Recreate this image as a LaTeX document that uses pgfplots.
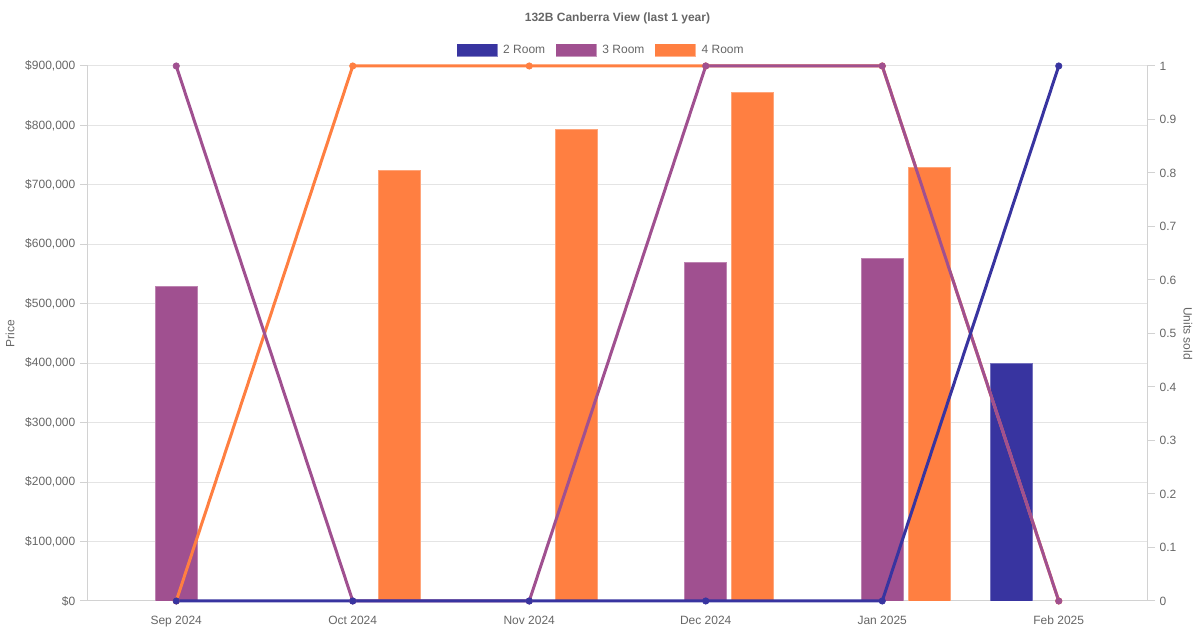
\documentclass[border=0pt]{standalone}
\usepackage{pgfplots}
\pgfplotsset{compat=1.18}
\usepackage{fontspec}
\setmainfont{Liberation Sans}
\definecolor{cblue}{RGB}{56,52,160}
\definecolor{cpurple}{RGB}{160,80,144}
\definecolor{corange}{RGB}{255,127,65}
\definecolor{txtgray}{RGB}{102,102,102}
\definecolor{gridgray}{RGB}{228,228,228}
\definecolor{axgray}{RGB}{210,210,210}
\begin{document}
\begin{tikzpicture}
\useasboundingbox (0,0) rectangle (900pt,472.5pt);
\begin{axis}[
  at={(66pt,21.75pt)}, anchor=south west,
  width=794.25pt, height=401.25pt, scale only axis,
  xmin=-0.5, xmax=5.5, ymin=0, ymax=900000,
  xtick={0,1,2,3,4,5},
  xticklabels={Sep 2024,Oct 2024,Nov 2024,Dec 2024,Jan 2025,Feb 2025},
  ytick={0,100000,200000,300000,400000,500000,600000,700000,800000,900000},
  scaled y ticks=false,
  yticklabel={\$\pgfmathprintnumber[fixed,precision=0,1000 sep={,}]{\tick}},
  /pgf/number format/assume math mode=true,
  axis x line*=bottom, axis y line*=left,
  axis line style={draw=axgray, line width=0.75pt},
  ymajorgrids, major grid style={draw=gridgray, line width=0.75pt},
  tick align=outside, major tick length=6pt,
  ytick style={draw=axgray, line width=0.75pt},
  xtick style={draw=none},
  tick label style={font=\fontsize{9}{10}\selectfont, text=txtgray},
  xticklabel style={yshift=-1.5pt},
  ylabel={Price},
  ylabel style={at={([xshift=-58.5pt]axis description cs:0,0.5)}, anchor=center, font=\fontsize{9}{10}\selectfont, text=txtgray},
  title={\textbf{132B Canberra View (last 1 year)}},
  title style={at={(axis description cs:0.5,1)}, anchor=center, yshift=30pt, font=\fontsize{9}{10}\selectfont, text=txtgray},
  legend columns=3,
  legend style={at={(axis description cs:0.5,1)}, anchor=center, xshift=-12pt, yshift=12pt, draw=none, fill=none,
    font=\fontsize{9}{10}\selectfont, text=txtgray,
    /tikz/every odd column/.append style={column sep=2.5pt},
    /tikz/every even column/.append style={column sep=6pt}},
  legend image code/.code={\draw[#1, draw opacity=0.6] (0pt,-4.5pt) rectangle (30pt,4.5pt);},
  bar width=31.5pt,
]
\addlegendimage{fill=cblue, draw=cblue}
\addlegendentry{2 Room}
\addlegendimage{fill=cpurple, draw=cpurple}
\addlegendentry{3 Room}
\addlegendimage{fill=corange, draw=corange}
\addlegendentry{4 Room}
% 2 Room bars
\addplot[ybar, bar shift=-35.25pt, fill=cblue, draw=cblue!70!white, line width=0.5pt] coordinates {(5,400000)};
% 3 Room bars
\addplot[ybar, bar shift=0pt, fill=cpurple, draw=cpurple!70!white, line width=0.5pt] coordinates {(0,529000) (3,570000) (4,576000)};
% 4 Room bars
\addplot[ybar, bar shift=35.25pt, fill=corange, draw=corange!70!white, line width=0.5pt] coordinates {(1,725000) (2,793000) (3,855000) (4,729000)};
\end{axis}
\begin{axis}[
  at={(66pt,21.75pt)}, anchor=south west,
  width=794.25pt, height=401.25pt, scale only axis,
  xmin=-0.5, xmax=5.5, ymin=0, ymax=1,
  clip=false,
  axis x line=none, axis y line*=right,
  axis line style={draw=axgray, line width=0.75pt},
  ytick={0,0.1,0.2,0.3,0.4,0.5,0.6,0.7,0.8,0.9,1},
  yticklabels={0,0.1,0.2,0.3,0.4,0.5,0.6,0.7,0.8,0.9,1},
  tick align=outside, major tick length=6pt,
  ytick style={draw=axgray, line width=0.75pt},
  tick label style={font=\fontsize{9}{10}\selectfont, text=txtgray},
  ylabel={Units sold},
  ylabel style={at={([xshift=30.75pt]axis description cs:1,0.5)}, anchor=center, rotate=180, font=\fontsize{9}{10}\selectfont, text=txtgray},
]
\addplot[corange, line width=2.25pt, mark=*, mark size=2.4pt, mark options={line width=0.5pt}] coordinates {(0,0) (1,1) (2,1) (3,1) (4,1) (5,0)};
\addplot[cpurple, line width=2.25pt, mark=*, mark size=2.4pt, mark options={line width=0.5pt}] coordinates {(0,1) (1,0) (2,0) (3,1) (4,1) (5,0)};
\addplot[cblue, line width=2.25pt, mark=*, mark size=2.4pt, mark options={line width=0.5pt}] coordinates {(0,0) (1,0) (2,0) (3,0) (4,0) (5,1)};
\end{axis}
\end{tikzpicture}
\end{document}
